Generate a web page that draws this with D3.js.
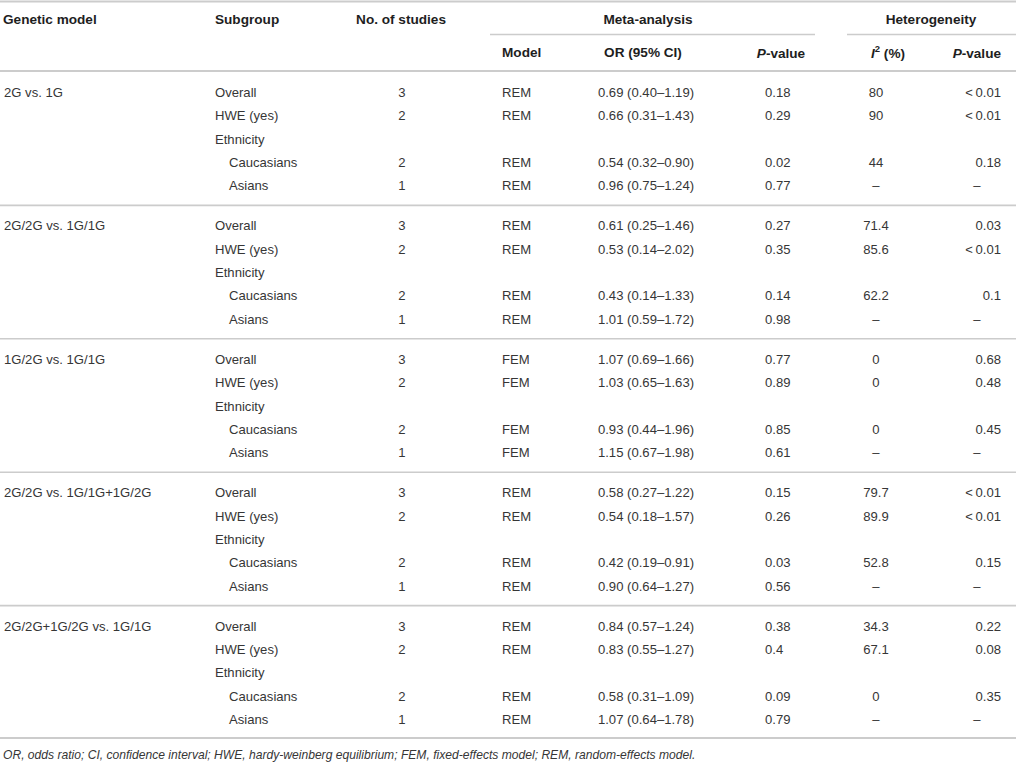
<!DOCTYPE html>
<html>
<head>
<meta charset="utf-8">
<script src="https://cdn.jsdelivr.net/npm/d3@7"></script>
<style>
  html, body { margin: 0; padding: 0; background: #fff; }
  svg { display: block; }
  text { font-family: "Liberation Sans", Arial, Helvetica, sans-serif; }
</style>
</head>
<body>
<svg id="chart" width="1016" height="762"></svg>
<script>
// ---------------- data ----------------
const geneticModels = ["2G vs. 1G", "2G/2G vs. 1G/1G", "1G/2G vs. 1G/1G", "2G/2G vs. 1G/1G+1G/2G", "2G/2G+1G/2G vs. 1G/1G"];
const subgroups = ["Overall", "HWE (yes)", "Ethnicity", "Caucasians", "Asians"];
const subgroupIndent = [false, false, false, true, true];
const noOfStudies = ["3", "2", "", "2", "1"];

const effectModels = [
  ["REM", "REM", "", "REM", "REM"],
  ["REM", "REM", "", "REM", "REM"],
  ["FEM", "FEM", "", "FEM", "FEM"],
  ["REM", "REM", "", "REM", "REM"],
  ["REM", "REM", "", "REM", "REM"]
];
const orCI = [
  ["0.69 (0.40–1.19)", "0.66 (0.31–1.43)", "", "0.54 (0.32–0.90)", "0.96 (0.75–1.24)"],
  ["0.61 (0.25–1.46)", "0.53 (0.14–2.02)", "", "0.43 (0.14–1.33)", "1.01 (0.59–1.72)"],
  ["1.07 (0.69–1.66)", "1.03 (0.65–1.63)", "", "0.93 (0.44–1.96)", "1.15 (0.67–1.98)"],
  ["0.58 (0.27–1.22)", "0.54 (0.18–1.57)", "", "0.42 (0.19–0.91)", "0.90 (0.64–1.27)"],
  ["0.84 (0.57–1.24)", "0.83 (0.55–1.27)", "", "0.58 (0.31–1.09)", "1.07 (0.64–1.78)"]
];
const pMeta = [
  ["0.18", "0.29", "", "0.02", "0.77"],
  ["0.27", "0.35", "", "0.14", "0.98"],
  ["0.77", "0.89", "", "0.85", "0.61"],
  ["0.15", "0.26", "", "0.03", "0.56"],
  ["0.38", "0.4", "", "0.09", "0.79"]
];
const i2 = [
  ["80", "90", "", "44", "–"],
  ["71.4", "85.6", "", "62.2", "–"],
  ["0", "0", "", "0", "–"],
  ["79.7", "89.9", "", "52.8", "–"],
  ["34.3", "67.1", "", "0", "–"]
];
const pHet = [
  ["<\u20090.01", "<\u20090.01", "", "0.18", "–"],
  ["0.03", "<\u20090.01", "", "0.1", "–"],
  ["0.68", "0.48", "", "0.45", "–"],
  ["<\u20090.01", "<\u20090.01", "", "0.15", "–"],
  ["0.22", "0.08", "", "0.35", "–"]
];
const footnote = "OR, odds ratio; CI, confidence interval; HWE, hardy-weinberg equilibrium; FEM, fixed-effects model; REM, random-effects model.";

// ---------------- layout ----------------
const svg = d3.select("#chart");
const W = 1016;
const textColor = "#363636";
const headColor = "#1e1e1e";
const lineColor = "#cccccc";
const fs = 13.1;
const hfs = 13.6;

// rows flattened
const rows = [];
geneticModels.forEach((gm, g) => {
  subgroups.forEach((sg, r) => {
    rows.push({
      g, r,
      model: r === 0 ? gm : "",
      subgroup: sg,
      indent: subgroupIndent[r],
      n: noOfStudies[r],
      em: effectModels[g][r],
      or: orCI[g][r],
      p: pMeta[g][r],
      i2: i2[g][r],
      ph: pHet[g][r]
    });
  });
});

// scales: group position and row within group
const groupY = d3.scaleLinear().domain([0, 4]).range([92.5, 92.5 + 4 * 133.4]);
const rowY = d3.scaleLinear().domain([0, 4]).range([0, 4 * 23.35]);
const yOf = d => groupY(d.g) + rowY(d.r);

const col = {
  gm: 4, sg: 215, sgIndent: 229, n: 402, em: 502, or: 646, p: 765, i2: 876, ph: 1001, phDash: 977
};

// lines
function hline(x1, x2, y, w) {
  svg.append("line").attr("x1", x1).attr("x2", x2).attr("y1", y).attr("y2", y)
    .attr("stroke", lineColor).attr("stroke-width", w || 1.6);
}
hline(0, W, 1.5, 2);
hline(490, 815, 34.5, 1.6);
hline(847, W, 34.5, 1.6);
hline(0, W, 71, 1.8);
for (let g = 0; g < geneticModels.length - 1; g++) {
  hline(0, W, groupY(g) + rowY(4) + 19.5, 1.6);
}
hline(0, W, groupY(4) + rowY(4) + 18.5, 1.8);

// headers
const head = svg.append("g").attr("font-size", hfs).attr("font-weight", "bold").attr("fill", headColor)
  .attr("dominant-baseline", "central");
const headers1 = [
  { t: "Genetic model", x: 3, a: "start" },
  { t: "Subgroup", x: col.sg, a: "start" },
  { t: "No. of studies", x: 401, a: "middle" },
  { t: "Meta-analysis", x: 648, a: "middle" },
  { t: "Heterogeneity", x: 931, a: "middle" }
];
head.selectAll("text.h1").data(headers1).join("text").attr("class", "h1")
  .attr("x", d => d.x).attr("y", 19).attr("text-anchor", d => d.a).text(d => d.t);

const h2y = 52.5;
head.append("text").attr("x", col.em).attr("y", h2y).text("Model");
head.append("text").attr("x", 643).attr("y", h2y).attr("text-anchor", "middle").text("OR (95% CI)");
const pv1 = head.append("text").attr("x", 781).attr("y", h2y).attr("text-anchor", "middle");
pv1.append("tspan").attr("font-style", "italic").text("P");
pv1.append("tspan").text("-value");
const i2h = head.append("text").attr("x", 888).attr("y", h2y).attr("text-anchor", "middle");
i2h.append("tspan").attr("font-style", "italic").text("I");
i2h.append("tspan").attr("font-size", 9.5).attr("dy", -5).text("2");
i2h.append("tspan").attr("dy", 5).text(" (%)");
const pv2 = head.append("text").attr("x", col.ph).attr("y", h2y).attr("text-anchor", "end");
pv2.append("tspan").attr("font-style", "italic").text("P");
pv2.append("tspan").text("-value");

// body cells
const body = svg.append("g").attr("font-size", fs).attr("fill", textColor).attr("dominant-baseline", "central");
const rowG = body.selectAll("g.row").data(rows).join("g").attr("class", "row")
  .attr("transform", d => `translate(0,${yOf(d)})`);

rowG.append("text").attr("x", col.gm).text(d => d.model);
rowG.append("text").attr("x", d => d.indent ? col.sgIndent : col.sg).text(d => d.subgroup);
rowG.append("text").attr("x", col.n).attr("text-anchor", "middle").text(d => d.n);
rowG.append("text").attr("x", col.em).text(d => d.em);
rowG.append("text").attr("x", col.or).attr("text-anchor", "middle").text(d => d.or);
rowG.append("text").attr("x", col.p).text(d => d.p);
rowG.append("text").attr("x", col.i2).attr("text-anchor", "middle").text(d => d.i2);
rowG.append("text")
  .attr("x", d => d.ph === "–" ? col.phDash : col.ph)
  .attr("text-anchor", d => d.ph === "–" ? "middle" : "end")
  .text(d => d.ph);

// footnote
svg.append("text").attr("x", 3).attr("y", 755).attr("dominant-baseline", "central")
  .attr("font-size", 12.1).attr("font-style", "italic").attr("fill", textColor).text(footnote);
</script>
</body>
</html>
